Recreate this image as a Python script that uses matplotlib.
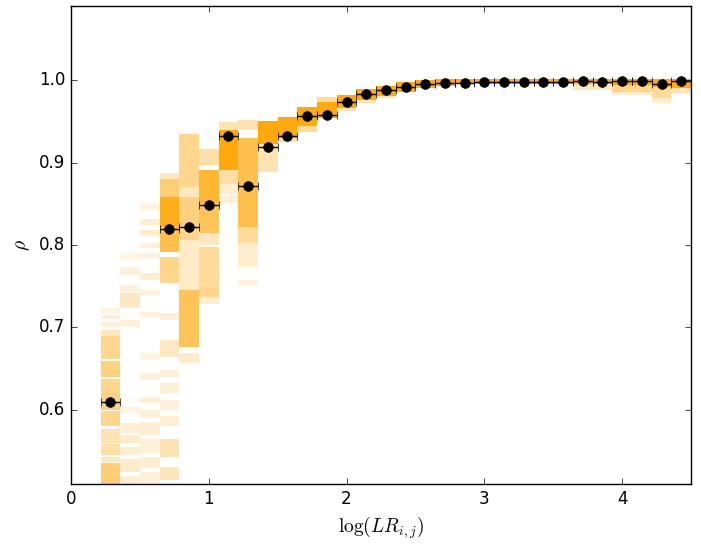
import numpy as np
import matplotlib
matplotlib.use("Agg")
import matplotlib.pyplot as plt

plt.style.use("classic")
plt.rcParams["figure.facecolor"] = "white"
plt.rcParams["savefig.facecolor"] = "white"

# bin centres of log(LR_ij) and half bin width
log_lr = [0.286, 0.429, 0.571, 0.714, 0.857, 1.000, 1.143, 1.286, 1.429, 1.571,
          1.714, 1.857, 2.000, 2.143, 2.286, 2.429, 2.571, 2.714, 2.857, 3.000,
          3.143, 3.286, 3.429, 3.571, 3.714, 3.857, 4.000, 4.143, 4.286, 4.429]
half_width = 0.0714

# median correlation per bin (NaN = below the plotted range)
rho = [0.609, np.nan, np.nan, 0.820, 0.822, 0.849, 0.932, 0.872, 0.919, 0.932,
       0.957, 0.958, 0.973, 0.983, 0.988, 0.992, 0.995, 0.996, 0.997, 0.998,
       0.998, 0.998, 0.998, 0.998, 0.9995, 0.998, 0.9995, 0.9995, 0.995, 0.9995]

# resampled rho distribution per bin: (low, high, opacity) strips
band_strips = [
    [(0.718, 0.724, 0.12), (0.710, 0.715, 0.15), (0.701, 0.706, 0.15),
     (0.689, 0.697, 0.25), (0.662, 0.689, 0.45), (0.640, 0.659, 0.50),
     (0.620, 0.638, 0.45), (0.600, 0.620, 0.50), (0.580, 0.598, 0.45),
     (0.560, 0.577, 0.30), (0.545, 0.558, 0.35), (0.537, 0.543, 0.25),
     (0.510, 0.535, 0.55)],
    [(0.782, 0.790, 0.12), (0.764, 0.773, 0.15), (0.743, 0.752, 0.15),
     (0.724, 0.742, 0.25), (0.700, 0.709, 0.15),
     (0.596, 0.604, 0.12), (0.572, 0.584, 0.18), (0.560, 0.570, 0.22),
     (0.545, 0.555, 0.20), (0.525, 0.540, 0.22), (0.510, 0.520, 0.18)],
    [(0.843, 0.851, 0.12), (0.824, 0.832, 0.18), (0.812, 0.818, 0.22),
     (0.796, 0.802, 0.15), (0.784, 0.790, 0.15), (0.758, 0.766, 0.18),
     (0.739, 0.745, 0.15), (0.713, 0.719, 0.15), (0.661, 0.669, 0.12),
     (0.636, 0.645, 0.15), (0.608, 0.616, 0.15), (0.590, 0.600, 0.15),
     (0.570, 0.585, 0.18), (0.548, 0.565, 0.15), (0.530, 0.543, 0.18),
     (0.510, 0.525, 0.15)],
    [(0.880, 0.887, 0.25), (0.858, 0.880, 0.55), (0.822, 0.858, 0.90),
     (0.792, 0.822, 0.70), (0.754, 0.785, 0.45),
     (0.709, 0.718, 0.18), (0.664, 0.685, 0.25), (0.640, 0.648, 0.15),
     (0.620, 0.633, 0.18), (0.600, 0.612, 0.15), (0.580, 0.592, 0.18),
     (0.543, 0.564, 0.30), (0.515, 0.531, 0.28)],
    [(0.870, 0.935, 0.45), (0.858, 0.870, 0.25), (0.818, 0.858, 0.50),
     (0.806, 0.818, 0.45), (0.745, 0.806, 0.22), (0.676, 0.745, 0.65),
     (0.657, 0.669, 0.22)],
    [(0.897, 0.917, 0.35), (0.851, 0.891, 0.80), (0.814, 0.851, 0.65),
     (0.800, 0.814, 0.25), (0.749, 0.798, 0.40), (0.737, 0.749, 0.45),
     (0.728, 0.737, 0.20)],
    [(0.939, 0.949, 0.30), (0.891, 0.939, 0.95), (0.874, 0.891, 0.35),
     (0.862, 0.874, 0.20), (0.851, 0.861, 0.15)],
    [(0.939, 0.952, 0.30), (0.822, 0.930, 0.70), (0.803, 0.822, 0.40),
     (0.773, 0.802, 0.20), (0.752, 0.757, 0.15)],
    [(0.922, 0.951, 0.95), (0.888, 0.922, 0.30)],
    [(0.930, 0.955, 0.95), (0.925, 0.930, 0.35)],
    [(0.945, 0.968, 0.95), (0.937, 0.945, 0.40)],
    [(0.973, 0.980, 0.40), (0.954, 0.973, 0.95)],
    [(0.966, 0.982, 0.95), (0.963, 0.966, 0.30)],
    [(0.976, 0.989, 0.95), (0.972, 0.976, 0.30)],
    [(0.981, 0.993, 0.95), (0.978, 0.981, 0.30)],
    [(0.986, 0.998, 0.95)],
    [(0.990, 1.000, 0.95)],
    [(0.993, 1.001, 0.95)],
    [(0.995, 1.002, 0.95)],
    [(0.995, 1.002, 0.95)],
    [(0.995, 1.002, 0.95)],
    [(0.995, 1.002, 0.95)],
    [(0.995, 1.002, 0.95)],
    [(0.995, 1.002, 0.95)],
    [(0.995, 1.002, 0.95), (0.988, 0.995, 0.25)],
    [(0.995, 1.002, 0.95), (0.988, 0.995, 0.25)],
    [(0.994, 1.002, 0.95), (0.986, 0.994, 0.45), (0.982, 0.986, 0.20)],
    [(0.994, 1.002, 0.95), (0.986, 0.994, 0.45), (0.982, 0.986, 0.20)],
    [(0.992, 1.002, 0.95), (0.978, 0.992, 0.40), (0.972, 0.978, 0.20)],
    [(0.990, 1.002, 0.95), (0.985, 0.990, 0.30)],
]

x_ticks = [0, 1, 2, 3, 4]
y_ticks = [0.6, 0.7, 0.8, 0.9, 1.0]

fig = plt.figure(figsize=(7.01, 5.44), dpi=100)
ax = fig.add_axes([71 / 701, 1 - 484 / 544, 620 / 701, 478 / 544])

for xc, strips in zip(log_lr, band_strips):
    for lo, hi, a in strips:
        ax.bar(xc, hi - lo, bottom=lo, width=2 * half_width, color="orange",
               alpha=a, linewidth=0, align="center")

ax.errorbar(log_lr, rho, xerr=half_width, fmt="o", color="k", mec="k",
            mfc="k", ms=7, capsize=3, elinewidth=1, zorder=5)

ax.set_xlim(0, 4.5)
ax.set_ylim(0.51, 1.09)
ax.set_xticks(x_ticks)
ax.set_yticks(y_ticks)
ax.set_xticklabels([str(t) for t in x_ticks])
ax.set_yticklabels(["%.1f" % t for t in y_ticks])
ax.set_xlabel(r"$\log(LR_{i,j})$", fontsize=14)
ax.set_ylabel(r"$\rho$", fontsize=14)

fig.savefig("out.png", dpi=100)
